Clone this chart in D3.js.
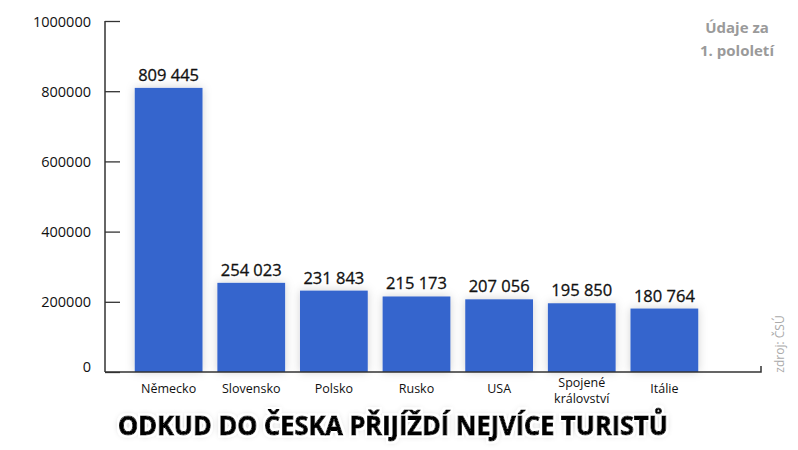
<!DOCTYPE html>
<head>
  <meta charset="utf-8">
  <title>Odkud do Česka přijíždí nejvíce turistů</title>
  <script src="https://d3js.org/d3.v7.min.js"></script>
  <style>
    body { margin:0; background:#fff; }
    svg { display:block; }
    text { font-family: "Open Sans", "Noto Sans", sans-serif; }
  </style>
</head>

<body>
  <svg width="798" height="450"></svg>
  <script>
    var countries = ['Německo', 'Slovensko', 'Polsko', 'Rusko', 'USA', 'Spojené království', 'Itálie'];
    var tourists = [809445, 254023, 231843, 215173, 207056, 195850, 180764];
    var yTicks = [0, 200000, 400000, 600000, 800000, 1000000];

    var svg = d3.select('svg');
    var barColor = '#3565cd';

    var x = d3.scaleBand()
      .domain(countries)
      .range([105, 728])
      .paddingInner(0.18)
      .paddingOuter(0.36);

    var y = d3.scaleLinear()
      .domain([0, 1000000])
      .range([372, 21]);

    // soft grey halo round the bars
    var defs = svg.append('defs');
    var f = defs.append('filter').attr('id', 'halo')
      .attr('x', '-30%').attr('y', '-30%').attr('width', '160%').attr('height', '160%');
    f.append('feDropShadow')
      .attr('dx', 0).attr('dy', 0).attr('stdDeviation', 5)
      .attr('flood-color', '#000').attr('flood-opacity', 0.18);

    var t = defs.append('filter').attr('id', 'glow')
      .attr('x', '-10%').attr('y', '-40%').attr('width', '120%').attr('height', '180%');
    t.append('feMorphology').attr('in', 'SourceAlpha').attr('operator', 'dilate').attr('radius', 2).attr('result', 'd');
    t.append('feFlood').attr('flood-color', '#fff');
    t.append('feComposite').attr('in2', 'd').attr('operator', 'in').attr('result', 'w');
    t.append('feGaussianBlur').attr('in', 'SourceAlpha').attr('stdDeviation', 3).attr('result', 'b');
    t.append('feFlood').attr('flood-color', '#000').attr('flood-opacity', 0.25);
    t.append('feComposite').attr('in2', 'b').attr('operator', 'in').attr('result', 's');
    var m = t.append('feMerge');
    m.append('feMergeNode').attr('in', 's');
    m.append('feMergeNode').attr('in', 'w');
    m.append('feMergeNode').attr('in', 'SourceGraphic');

    // bars
    svg.append('g').selectAll('rect')
      .data(tourists)
      .enter().append('rect')
      .attr('x', (d, i) => x(countries[i]))
      .attr('y', d => y(d))
      .attr('width', x.bandwidth())
      .attr('height', d => y(0) - y(d))
      .attr('fill', barColor)
      .attr('filter', 'url(#halo)');

    // value labels
    var fmt = d3.formatLocale({ thousands: '\u00a0', grouping: [3], decimal: ',', currency: ['', ''] }).format(',');
    svg.append('g').selectAll('text')
      .data(tourists)
      .enter().append('text')
      .attr('x', (d, i) => x(countries[i]) + x.bandwidth() / 2)
      .attr('y', d => y(d) - 7)
      .attr('text-anchor', 'middle')
      .attr('font-size', 16.5)
      .attr('fill', '#111')
      .attr('stroke', '#111')
      .attr('stroke-width', 0.3)
      .text(d => fmt(d));

    // y axis, ticks pointing inward
    var yAxis = d3.axisRight(y)
      .tickValues(yTicks)
      .tickSize(15)
      .tickFormat(d3.format('d'));
    var gy = svg.append('g')
      .attr('transform', 'translate(105,0)')
      .call(yAxis);
    gy.select('.domain').remove();
    gy.selectAll('line').attr('stroke', '#333').attr('stroke-width', 1.3);
    gy.selectAll('text')
      .attr('x', -14)
      .attr('text-anchor', 'end')
      .attr('font-size', 14.5)
      .attr('fill', '#111')
      .attr('dy', (d) => d === 0 ? '-0.05em' : '0.35em');

    svg.append('line')
      .attr('x1', 105).attr('x2', 105)
      .attr('y1', y(1000000)).attr('y2', y(0))
      .attr('stroke', '#333').attr('stroke-width', 1.5);

    // x axis baseline with small end tick
    svg.append('path')
      .attr('d', 'M105,' + y(0) + 'H761V' + (y(0) - 6))
      .attr('fill', 'none')
      .attr('stroke', '#333').attr('stroke-width', 1.5);

    // category labels
    var cat = svg.append('g').selectAll('text')
      .data(countries)
      .enter().append('text')
      .attr('x', d => x(d) + x.bandwidth() / 2)
      .attr('y', 393)
      .attr('text-anchor', 'middle')
      .attr('font-size', 12.5)
      .attr('fill', '#111');
    cat.each(function(d) {
      var parts = d === 'Spojené království' ? ['Spojené', 'království'] : [d];
      var el = d3.select(this);
      if (parts.length > 1) el.attr('y', 387);
      parts.forEach((p, i) => {
        el.append('tspan')
          .attr('x', x(d) + x.bandwidth() / 2)
          .attr('dy', i === 0 ? 0 : 16)
          .text(p);
      });
    });

    // note top right
    var note = svg.append('text')
      .attr('text-anchor', 'middle')
      .attr('font-size', 15)
      .attr('font-weight', 'bold')
      .attr('fill', '#9a9a9a');
    note.append('tspan').attr('x', 737).attr('y', 33).text('Údaje za');
    note.append('tspan').attr('x', 737).attr('y', 56).text('1. pololetí');

    // source
    svg.append('text')
      .attr('transform', 'translate(784,344) rotate(-90)')
      .attr('text-anchor', 'middle')
      .attr('font-size', 12)
      .attr('fill', '#aaa')
      .text('zdroj: ČSÚ');

    // title
    svg.append('text')
      .attr('x', 393)
      .attr('y', 435)
      .attr('text-anchor', 'middle')
      .attr('font-family', '"DejaVu Sans Condensed", "DejaVu Sans", sans-serif')
      .attr('font-weight', 'bold')
      .attr('font-size', 26)
      .attr('textLength', 550)
      .attr('lengthAdjust', 'spacingAndGlyphs')
      .attr('fill', '#000')
      .attr('stroke', '#000')
      .attr('stroke-width', 1)
      .attr('filter', 'url(#glow)')
      .text('ODKUD DO ČESKA PŘIJÍŽDÍ NEJVÍCE TURISTŮ');
  </script>
</body>
